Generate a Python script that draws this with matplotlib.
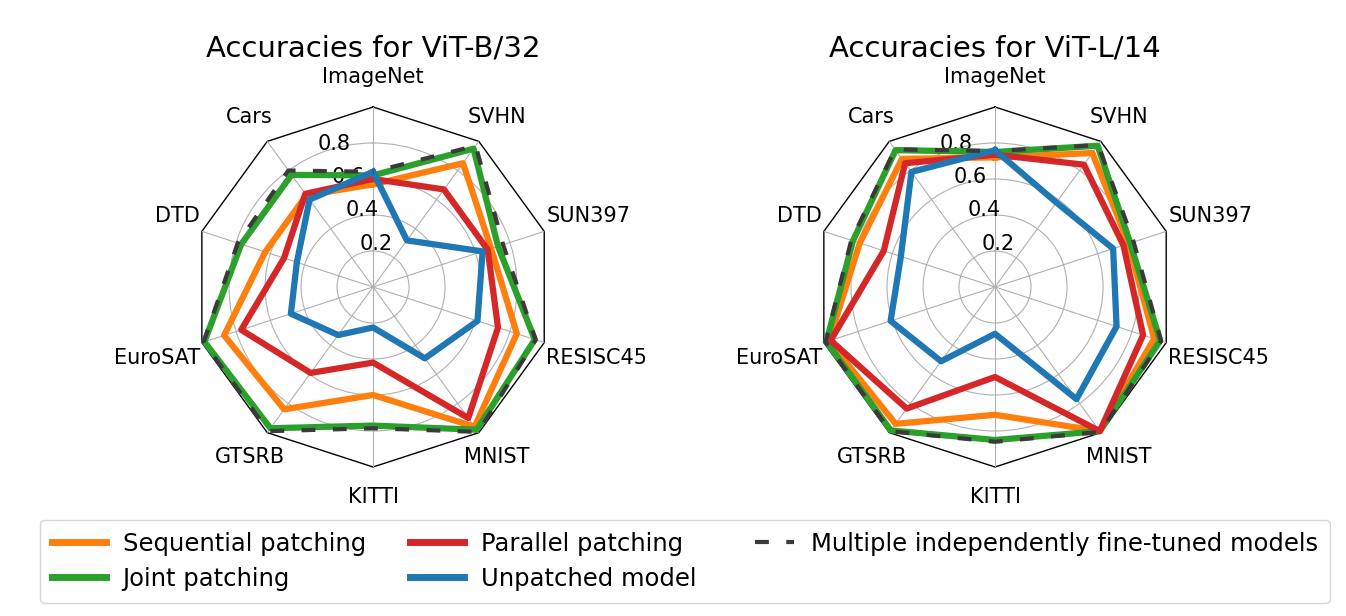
import numpy as np
import matplotlib
matplotlib.use('Agg')
import matplotlib.pyplot as plt
from matplotlib.lines import Line2D

# spokes, counterclockwise from the top
tasks = ['ImageNet', 'Cars', 'DTD', 'EuroSAT', 'GTSRB', 'KITTI', 'MNIST', 'RESISC45', 'SUN397', 'SVHN']

# ViT-B/32
b32_sequential = [0.57, 0.63, 0.63, 0.87, 0.84, 0.60, 0.96, 0.84, 0.69, 0.85]
b32_joint = [0.62, 0.77, 0.77, 0.985, 0.97, 0.77, 0.98, 0.945, 0.73, 0.95]
b32_parallel = [0.60, 0.64, 0.52, 0.77, 0.59, 0.42, 0.90, 0.73, 0.67, 0.67]
b32_unpatched = [0.64, 0.60, 0.445, 0.48, 0.33, 0.225, 0.49, 0.61, 0.64, 0.32]
b32_multiple = [0.64, 0.80, 0.79, 0.99, 0.99, 0.785, 0.995, 0.95, 0.76, 0.97]

# ViT-L/14
l14_sequential = [0.72, 0.88, 0.79, 0.97, 0.94, 0.71, 0.99, 0.93, 0.78, 0.92]
l14_joint = [0.75, 0.94, 0.83, 0.985, 0.985, 0.85, 0.99, 0.965, 0.79, 0.97]
l14_parallel = [0.735, 0.85, 0.65, 0.96, 0.835, 0.50, 0.99, 0.865, 0.75, 0.84]
l14_unpatched = [0.76, 0.79, 0.55, 0.61, 0.51, 0.26, 0.77, 0.71, 0.69, 0.58]
l14_multiple = [0.755, 0.945, 0.84, 0.99, 0.99, 0.86, 0.995, 0.97, 0.81, 0.975]

rticks = [0.2, 0.4, 0.6, 0.8]

names = ['Sequential patching', 'Joint patching', 'Parallel patching',
         'Unpatched model', 'Multiple independently fine-tuned models']
colors = ['#ff7f0e', '#2ca02c', '#d62728', '#1f77b4', '#3a3a3a']
DASH = (3.9, (3.33, 4.17))


def SpokeLabels(ax, theta):
    # put the task names outside the polygon, left/right aligned on the sides
    for t, name in zip(theta, tasks):
        dx, dy = -np.sin(t), np.cos(t)
        if abs(dx) > 0.9:
            ha = 'left' if dx > 0 else 'right'
            off = (2 * np.sign(dx), 15 * np.sign(dy))
        else:
            ha = 'center'
            off = (30 * dx, 30 * dy)
        ax.annotate(name, xy=(t, 1), xytext=off, textcoords='offset pixels',
                    ha=ha, va='center', fontsize=15, annotation_clip=False)


def RadarPlot(fig, rect, title, series):
    ax = fig.add_axes(rect, projection='polar')
    ax.set_theta_offset(np.pi / 2)
    theta = np.linspace(0, 2 * np.pi, len(tasks), endpoint=False)
    closed = np.append(theta, theta[0])

    ax.spines['polar'].set_visible(False)
    ax.plot(closed, np.ones(len(closed)), color='black', lw=1, clip_on=False, zorder=1.5)

    for i, vals in enumerate(series):
        vals = np.append(vals, vals[0])
        if i == 4:
            ax.plot(closed, vals, color=colors[i], lw=3, linestyle=DASH, clip_on=False, zorder=3)
        else:
            ax.plot(closed, vals, color=colors[i], lw=4.5, clip_on=False, zorder=2)

    ax.set_ylim(0, 1)
    ax.set_rgrids(rticks, fontsize=15)
    ax.set_thetagrids(np.degrees(theta), [''] * len(tasks))
    SpokeLabels(ax, theta)
    ax.set_title(title, fontsize=21, y=1.139, pad=0)
    return ax


def main():
    fig = plt.figure(figsize=(13.46, 6.16), dpi=100)

    RadarPlot(fig, [0.1434, 0.2419, 0.2675, 0.5844], 'Accuracies for ViT-B/32',
              [b32_sequential, b32_joint, b32_parallel, b32_unpatched, b32_multiple])
    RadarPlot(fig, [0.6055, 0.2419, 0.2675, 0.5844], 'Accuracies for ViT-L/14',
              [l14_sequential, l14_joint, l14_parallel, l14_unpatched, l14_multiple])

    handles = []
    for i in range(4):
        handles.append(Line2D([], [], color=colors[i], lw=5))
    handles.append(Line2D([], [], color=colors[4], lw=3, linestyle=DASH))

    fig.legend(handles, names, loc='lower center', ncol=3, fontsize=17.5,
               handlelength=2.2, handletextpad=0.7, labelspacing=0.45, borderpad=0.5,
               mode='expand', borderaxespad=0,
               bbox_to_anchor=(40 / 1346, 13 / 616, 1290 / 1346, 0.1))

    fig.savefig('out.png', dpi=100)


if __name__ == "__main__":
    main()
